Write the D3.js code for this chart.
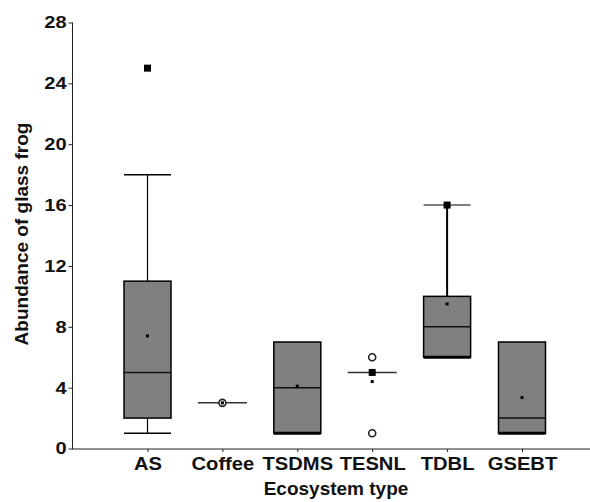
<!DOCTYPE html>
<html>
<head>
<meta charset="utf-8">
<script src="https://cdn.jsdelivr.net/npm/d3@7"></script>
<style>
  body { margin: 0; background: #fff; }
  text { font-family: "Liberation Sans", Arial, sans-serif; font-weight: bold; fill: #111; }
</style>
</head>
<body>
<svg id="chart" width="590" height="502"></svg>
<script>
const categories = ['AS', 'Coffee', 'TSDMS', 'TESNL', 'TDBL', 'GSEBT']
const whiskerLow = [1, 3, 1, 5, 6, 1]
const q1 = [2, 3, 1, 5, 6, 1]
const median = [5, 3, 4, 5, 8, 2]
const q3 = [11, 3, 7, 5, 10, 7]
const whiskerHigh = [18, 3, 7, 5, 16, 7]
const means = [7.4, 3, 4.1, 4.4, 9.5, 3.35]

// filled squares and open circles drawn off the boxes
const squareCat = ['AS', 'TESNL', 'TDBL']
const squareVal = [25, 5, 16]
const circleCat = ['Coffee', 'TESNL', 'TESNL']
const circleVal = [3, 6, 1]

const yTicks = [0, 4, 8, 12, 16, 20, 24, 28]

const svg = d3.select('#chart')

const x = d3.scalePoint()
    .domain(categories)
    .range([147.5, 522])

const y = d3.scaleLinear()
    .domain([0, 28])
    .range([448.5, 22.5])

const boxHalf = 23.5

// axes
const yAxis = svg.append('g')
    .attr('transform', 'translate(72.5,0)')
    .call(d3.axisLeft(y).tickValues(yTicks).tickSize(4).tickPadding(2).tickSizeOuter(0))
yAxis.select('.domain').remove()
yAxis.append('line')
    .attr('x1', 0).attr('x2', 0)
    .attr('y1', y(28)).attr('y2', 449)
    .attr('stroke', '#222')
yAxis.selectAll('.tick line').attr('stroke', '#222')
yAxis.selectAll('.tick text')
    .attr('font-size', 17)
    .attr('fill', '#111')
    .attr('x', -5)
    .attr('transform', 'scale(1.18,1)')

const xAxis = svg.append('g')
    .attr('transform', 'translate(0,449)')
    .call(d3.axisBottom(x).tickSize(3).tickPadding(5).tickSizeOuter(0))
xAxis.select('.domain').remove()
xAxis.append('line')
    .attr('x1', 72).attr('x2', 590)
    .attr('stroke', '#222')
xAxis.selectAll('.tick line').attr('stroke', '#222')
xAxis.selectAll('.tick text')
    .attr('font-size', 18)
    .attr('fill', '#111')
    .attr('transform', 'scale(1.12,1)')

// axis titles
svg.append('text')
    .attr('transform', 'translate(28,234) rotate(-90)')
    .attr('text-anchor', 'middle')
    .attr('font-size', 19)
    .text('Abundance of glass frog')

svg.append('text')
    .attr('x', 336)
    .attr('y', 495)
    .attr('text-anchor', 'middle')
    .attr('font-size', 19)
    .text('Ecosystem type')

// boxes
const boxes = svg.append('g').selectAll('g.box')
    .data(categories)
    .enter().append('g')
    .attr('class', 'box')
    .attr('transform', d => `translate(${x(d)},0)`)

boxes.each(function (d, i) {
    const g = d3.select(this)
    const thick = d === 'TDBL' ? 2 : 1.2

    // upper whisker
    if (whiskerHigh[i] > q3[i]) {
        g.append('line')
            .attr('x1', 0).attr('x2', 0)
            .attr('y1', y(q3[i])).attr('y2', y(whiskerHigh[i]))
            .attr('stroke', '#000').attr('stroke-width', thick)
        g.append('line')
            .attr('x1', -boxHalf).attr('x2', boxHalf)
            .attr('y1', y(whiskerHigh[i])).attr('y2', y(whiskerHigh[i]))
            .attr('stroke', d === 'TDBL' ? '#555' : '#000').attr('stroke-width', 1.5)
    }
    // lower whisker
    if (whiskerLow[i] < q1[i]) {
        g.append('line')
            .attr('x1', 0).attr('x2', 0)
            .attr('y1', y(q1[i])).attr('y2', y(whiskerLow[i]))
            .attr('stroke', '#000').attr('stroke-width', thick)
    }

    if (q3[i] > q1[i]) {
        g.append('rect')
            .attr('x', -boxHalf)
            .attr('width', boxHalf * 2)
            .attr('y', y(q3[i]))
            .attr('height', y(q1[i]) - y(q3[i]))
            .attr('fill', '#808080')
            .attr('stroke', '#000')
            .attr('stroke-width', 1.5)
        g.append('line')
            .attr('x1', -boxHalf).attr('x2', boxHalf)
            .attr('y1', y(median[i])).attr('y2', y(median[i]))
            .attr('stroke', '#111').attr('stroke-width', 1.5)
        // lower cap
        g.append('line')
            .attr('x1', -boxHalf).attr('x2', boxHalf)
            .attr('y1', y(whiskerLow[i])).attr('y2', y(whiskerLow[i]))
            .attr('stroke', '#000').attr('stroke-width', whiskerLow[i] < q1[i] ? 1.5 : 3)
    } else {
        // collapsed box
        g.append('line')
            .attr('x1', -boxHalf - 1).attr('x2', boxHalf + 1)
            .attr('y1', y(median[i])).attr('y2', y(median[i]))
            .attr('stroke', '#333').attr('stroke-width', 1.5)
    }
})

// open circles
svg.append('g').selectAll('circle')
    .data(circleVal)
    .enter().append('circle')
    .attr('cx', (d, i) => x(circleCat[i]))
    .attr('cy', d => y(d))
    .attr('r', 3.5)
    .attr('fill', '#fff')
    .attr('stroke', '#222')
    .attr('stroke-width', 1.6)

// filled squares
svg.append('g').selectAll('rect')
    .data(squareVal)
    .enter().append('rect')
    .attr('x', (d, i) => x(squareCat[i]) - 3.5)
    .attr('y', d => y(d) - 3.5)
    .attr('width', 7)
    .attr('height', 7)
    .attr('fill', '#000')

// mean dots
svg.append('g').selectAll('rect')
    .data(means)
    .enter().append('rect')
    .attr('x', (d, i) => x(categories[i]) - 1.5)
    .attr('y', d => y(d) - 1.5)
    .attr('width', 3)
    .attr('height', 3)
    .attr('fill', '#000')
</script>
</body>
</html>
